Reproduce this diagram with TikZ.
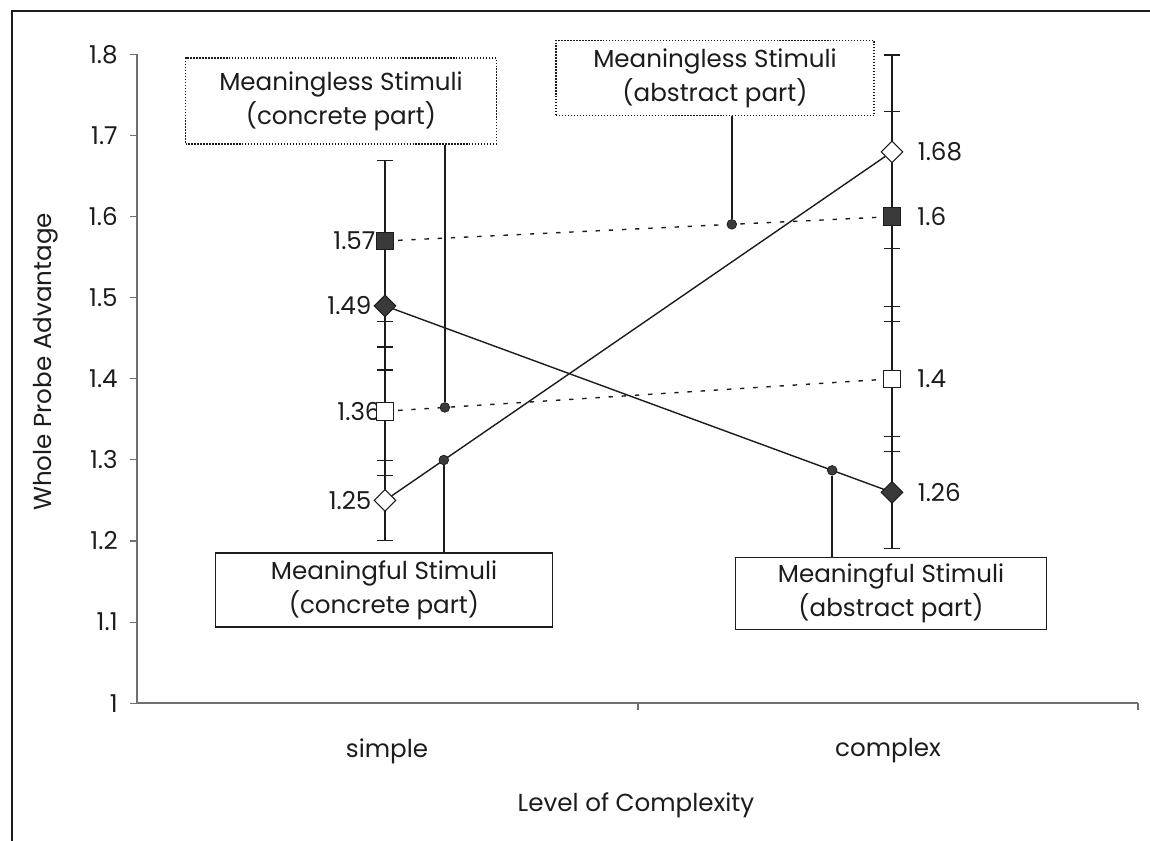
\documentclass[tikz,border=0pt]{standalone}
\usepackage{fontspec}
\setmainfont{Poppins}
\usepackage{xcolor}
\usepackage{tikz}
\usetikzlibrary{arrows.meta,positioning,calc,shapes.geometric,backgrounds}
\definecolor{Ink}{HTML}{1C1C1C}
\definecolor{Mark}{HTML}{3A3A3A}
\definecolor{AxisGray}{HTML}{707070}
\tikzset{
  chartframe/.style={draw=Ink,line width=1.1pt},
  axisline/.style={draw=AxisGray,line width=0.6pt},
  ticklabel/.style={font=\fontsize{14}{17}\selectfont,text=Ink,inner sep=0pt},
  vlabel/.style={ticklabel},
  errbar/.style={draw=Ink,line width=0.7pt,arrows={Bar[width=9pt]-Bar[width=9pt]}},
  series/.style={draw=Ink,line width=0.8pt},
  seriesdot/.style={series,dash pattern=on 2.5pt off 5pt},
  fsquare/.style={rectangle,draw=Ink,fill=Mark,line width=0.6pt,minimum size=10pt,inner sep=0pt},
  osquare/.style={fsquare,fill=white},
  fdiamond/.style={diamond,draw=Ink,fill=Mark,line width=0.6pt,minimum size=12.5pt,inner sep=0pt},
  odiamond/.style={fdiamond,fill=white},
  notebox/.style={draw=Ink,line width=0.7pt,fill=white,align=center,inner sep=0pt,
    font=\fontsize{14}{19.5}\selectfont,text=Ink},
  noteboxdot/.style={notebox,densely dotted},
  leader/.style={draw=Ink,line width=0.8pt},
  leaderdot/.style={circle,draw=Ink,fill=Mark,inner sep=0pt,minimum size=5.5pt}
}
\begin{document}
\begin{tikzpicture}[x=0.02cm,y=-0.02cm]
  \useasboundingbox (0,0) rectangle (1150,841);
  \draw[chartframe] (12,11) rectangle (1175,870);
  \draw[axisline] (137,54) -- (137,703) -- (1138,703);
  \draw[axisline] (638,703) -- (638,710) (1138,703) -- (1138,710);
  \begin{scope}[shift={(0,1514)},y=16.22cm]
    \foreach \v [count=\i] in {1,1.1,1.2,1.3,1.4,1.5,1.6,1.7,1.8}{
      \draw[axisline] (130,\v) -- (137,\v);
      \node[ticklabel,anchor=east] (tick\i) at (118,\v) {\v};
    }
    \node[odiamond] (od-s) at (385,1.25) {};
    \node[odiamond] (od-c) at (892,1.68) {};
    \node[fdiamond] (fd-s) at (385,1.49) {};
    \node[fdiamond] (fd-c) at (892,1.26) {};
    \node[osquare] (os-s) at (385,1.36) {};
    \node[osquare] (os-c) at (892,1.40) {};
    \node[fsquare] (fs-s) at (385,1.57) {};
    \node[fsquare] (fs-c) at (892,1.60) {};
    \begin{scope}[on background layer]
      \foreach \xx/\v/\e in {385/1.25/0.05,892/1.68/0.12,385/1.49/0.08,892/1.26/0.07,
                             385/1.36/0.08,892/1.40/0.09,385/1.57/0.10,892/1.60/0.13}
        \draw[errbar] (\xx,\v-\e) -- (\xx,\v+\e);
      \draw[series] (od-s.center) -- (od-c.center) coordinate[pos=0.116] (d3);
      \draw[series] (fd-s.center) -- (fd-c.center) coordinate[pos=0.882] (d4);
      \draw[seriesdot] (os-s.center) -- (os-c.center) coordinate[pos=0.118] (d1);
      \draw[seriesdot] (fs-s.center) -- (fs-c.center) coordinate[pos=0.684] (d2);
      \node[vlabel,left=1pt of od-s] (od-s-val) {1.25};
      \node[vlabel,left=1pt of fd-s] (fd-s-val) {1.49};
      \node[vlabel,left=-3pt of os-s] (os-s-val) {1.36};
      \node[vlabel,left=0pt of fs-s] (fs-s-val) {1.57};
    \end{scope}
    \node[vlabel,right=8pt of od-c] (od-c-val) {1.68};
    \node[vlabel,right=8pt of fd-c] (fd-c-val) {1.26};
    \node[vlabel,right=9pt of os-c] (os-c-val) {1.4};
    \node[vlabel,right=9pt of fs-c] (fs-c-val) {1.6};
  \end{scope}

  \node[ticklabel,rotate=90] (ytitle) at (46,362) {Whole Probe Advantage};
  \node[ticklabel] (cat-s) at (387,751) {simple};
  \node[ticklabel] (cat-c) at (888,751) {complex};
  \node[ticklabel] (xtitle) at (636,805) {Level of Complexity};

  \node[noteboxdot,minimum width=177pt,minimum height=49pt] (mlc) at (341,101) {Meaningless Stimuli\\(concrete part)};
  \node[noteboxdot,minimum width=181pt,minimum height=43pt] (mla) at (715,78) {Meaningless Stimuli\\(abstract part)};
  \node[notebox,minimum width=191.5pt,minimum height=42pt] (mfc) at (384,590) {Meaningful Stimuli\\(concrete part)};
  \node[notebox,minimum width=177pt,minimum height=41.4pt] (mfa) at (891,593.5) {Meaningful Stimuli\\(abstract part)};

  \node[leaderdot] (p1) at (d1) {};
  \node[leaderdot] (p2) at (d2) {};
  \node[leaderdot] (p3) at (d3) {};
  \node[leaderdot] (p4) at (d4) {};
  \draw[leader] (mlc.south -| p1) -- (p1);
  \draw[leader] (mla.south -| p2) -- (p2);
  \draw[leader] (mfc.north -| p3) -- (p3);
  \draw[leader] (mfa.north -| p4) -- (p4);
\end{tikzpicture}
\end{document}
